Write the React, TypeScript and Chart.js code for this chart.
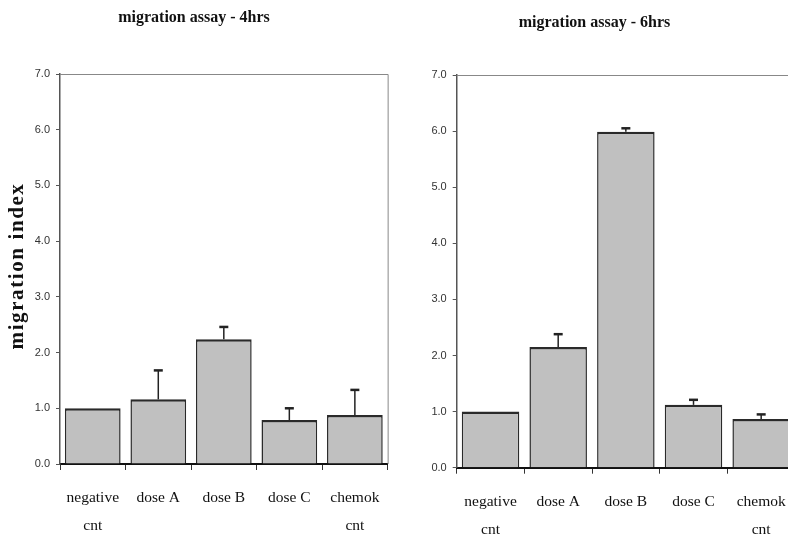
import React, { useEffect, useRef } from "react";
import { Chart, registerables } from "chart.js";
Chart.register(...registerables);

const categories: string[][] = [["negative", "cnt"], ["dose A"], ["dose B"], ["dose C"], ["chemok", "cnt"]];
const values4h = [1.0, 1.16, 2.24, 0.79, 0.88];
const errors4h = [0, 0.52, 0.22, 0.21, 0.45];
const values6h = [1.0, 2.15, 5.99, 1.12, 0.87];
const errors6h = [0, 0.23, 0.06, 0.09, 0.08];
const yMin = 0;
const yMax = 7;
const yStep = 1;

const title4h = "migration assay - 4hrs";
const title6h = "migration assay - 6hrs";
const yAxisLabel = "migration index";

type PanelOpts = {
  title: string;
  values: number[];
  errors: number[];
  yLabel?: string;
  titleTop: number;
  titleBottom: number;
  yWidth: number;
  xHeight: number;
  padRight: number;
};

const errorBarPlugin = {
  id: "errorBars",
  afterDatasetsDraw(chart: any) {
    const errs: number[] = chart.options.plugins.errorBars?.errors || [];
    const ctx = chart.ctx;
    const meta = chart.getDatasetMeta(0);
    const yScale = chart.scales.y;
    const vals = chart.data.datasets[0].data as number[];
    ctx.save();
    ctx.strokeStyle = "#222";
    meta.data.forEach((bar: any, i: number) => {
      const e = errs[i];
      if (!e) return;
      const x = bar.x;
      const top = bar.y;
      const et = yScale.getPixelForValue(vals[i] + e);
      ctx.lineWidth = 1.5;
      ctx.beginPath();
      ctx.moveTo(x, top);
      ctx.lineTo(x, et);
      ctx.stroke();
      ctx.lineWidth = 2.5;
      ctx.beginPath();
      ctx.moveTo(x - 4.5, et);
      ctx.lineTo(x + 4.5, et);
      ctx.stroke();
    });
    ctx.restore();
  },
};

const framePlugin = {
  id: "frame",
  beforeDatasetsDraw(chart: any) {
    const { ctx, chartArea } = chart;
    ctx.save();
    ctx.strokeStyle = "#888";
    ctx.lineWidth = 1;
    ctx.beginPath();
    ctx.moveTo(chartArea.left, chartArea.top + 0.5);
    ctx.lineTo(chartArea.right + 0.5, chartArea.top + 0.5);
    ctx.lineTo(chartArea.right + 0.5, chartArea.bottom);
    ctx.stroke();
    ctx.restore();
  },
};

const yLabelPlugin = {
  id: "yLabel",
  afterDraw(chart: any) {
    const text = chart.options.plugins.yLabel?.text;
    if (!text) return;
    const { ctx, chartArea } = chart;
    ctx.save();
    ctx.translate(18, (chartArea.top + chartArea.bottom) / 2 - 3);
    ctx.rotate(-Math.PI / 2);
    ctx.font = "bold 21px 'Liberation Serif', 'Times New Roman', serif";
    (ctx as any).letterSpacing = "1.6px";
    ctx.fillStyle = "#111";
    ctx.textAlign = "center";
    ctx.textBaseline = "middle";
    ctx.fillText(text, 0, 0);
    ctx.restore();
  },
};

function makeChart(canvas: HTMLCanvasElement, o: PanelOpts) {
  return new Chart(canvas, {
    type: "bar",
    data: {
      labels: categories,
      datasets: [
        {
          data: o.values,
          backgroundColor: "#c0c0c0",
          borderColor: "#2a2a2a",
          borderWidth: { top: 2.5, left: 1.5, right: 1.5, bottom: 0 },
          barPercentage: 0.85,
          categoryPercentage: 1,
        },
      ],
    },
    options: {
      animation: false,
      responsive: false,
      layout: { padding: { left: 0, right: o.padRight, top: 0, bottom: 0 } },
      plugins: {
        legend: { display: false },
        tooltip: { enabled: false },
        title: {
          display: true,
          text: o.title,
          color: "#111",
          font: { family: "'Liberation Serif', 'Times New Roman', serif", size: 16, weight: "bold", lineHeight: 1.2 },
          padding: { top: o.titleTop, bottom: o.titleBottom },
        },
        errorBars: { errors: o.errors },
        yLabel: { text: o.yLabel },
      } as any,
      scales: {
        x: {
          grid: { display: true, drawOnChartArea: false, drawTicks: true, tickLength: 6, color: "#333", offset: true },
          border: { display: true, color: "#111", width: 2 },
          ticks: {
            color: "#111",
            padding: 14,
            maxRotation: 0,
            autoSkip: false,
            font: { family: "'Liberation Serif', 'Times New Roman', serif", size: 15.5, lineHeight: "28px" as any },
          },
          afterFit(scale: any) {
            scale.height = o.xHeight;
          },
        },
        y: {
          min: yMin,
          max: yMax,
          grid: { display: true, drawOnChartArea: false, drawTicks: true, tickLength: 4, color: "#555" },
          border: { display: true, color: "#555", width: 1.5 },
          ticks: {
            stepSize: yStep,
            color: "#333",
            padding: 6,
            font: { family: "'Liberation Sans', Arial, sans-serif", size: 11 },
            callback: (v: any) => Number(v).toFixed(1),
          },
          afterFit(scale: any) {
            scale.width = o.yWidth;
          },
        },
      },
    } as any,
    plugins: [framePlugin, errorBarPlugin, yLabelPlugin],
  });
}

export default function App() {
  const leftRef = useRef<HTMLCanvasElement>(null);
  const rightRef = useRef<HTMLCanvasElement>(null);

  useEffect(() => {
    const c1 = makeChart(leftRef.current!, {
      title: title4h,
      values: values4h,
      errors: errors4h,
      yLabel: yAxisLabel,
      titleTop: 8.4,
      titleBottom: 46.4,
      yWidth: 60,
      xHeight: 76,
      padRight: 6,
    });
    const c2 = makeChart(rightRef.current!, {
      title: title6h,
      values: values6h,
      errors: errors6h,
      titleTop: 13.4,
      titleBottom: 42.4,
      yWidth: 62.7,
      xHeight: 72.3,
      padRight: 23,
    });
    return () => {
      c1.destroy();
      c2.destroy();
    };
  }, []);

  return (
    <div style={{ position: "fixed", left: 0, top: 0, width: 788, height: 540, overflow: "hidden", background: "#fff" }}>
      <canvas ref={leftRef} width={394} height={540} style={{ position: "absolute", left: 0, top: 0, display: "block" }} />
      <canvas ref={rightRef} width={424} height={540} style={{ position: "absolute", left: 394, top: 0, display: "block" }} />
    </div>
  );
}
